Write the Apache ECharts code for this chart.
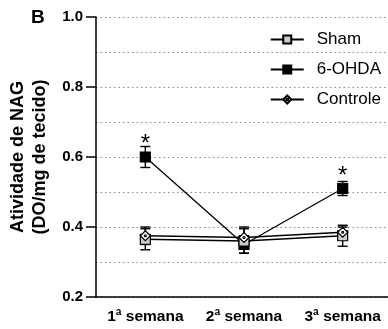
<!DOCTYPE html>
<html>
<head>
<meta charset="utf-8">
<script src="https://cdn.jsdelivr.net/npm/echarts@6/dist/echarts.min.js"></script>
<style>
  html, body { margin: 0; padding: 0; background: #fff; }
  #chart { width: 388px; height: 329px; }
</style>
</head>
<body>
<div id="chart"></div>
<script>
// data
var categories = ['1ª semana', '2ª semana', '3ª semana'];
var shamMean = [0.365, 0.36, 0.375];
var shamErr = [0.03, 0.035, 0.03];
var ohdaMean = [0.60, 0.35, 0.51];
var ohdaErr = [0.03, 0.025, 0.02];
var controleMean = [0.375, 0.37, 0.385];
var controleErr = [0.025, 0.03, 0.015];
var ohdaStar = [true, false, true];
var yMin = 0.2, yMax = 1.0, yStep = 0.2;

var FONT = 'Liberation Sans';
var diamondDot = 'path://M0,-5L5,0L0,5L-5,0Z M1,0A1,1 0 1,1 -1,0A1,1 0 1,1 1,0Z';

// error bars as custom series
var errorSeries = function (name, mean, err) {
  var data = mean.map(function (m, i) { return [i, m - err[i], m + err[i]]; });
  return {
    type: 'custom',
    name: name + '-err',
    data: data,
    z: 1,
    silent: true,
    renderItem: function (params, api) {
      var x = api.value(0);
      var lo = api.coord([x, api.value(1)]);
      var hi = api.coord([x, api.value(2)]);
      var w = 5;
      var st = { stroke: '#000', lineWidth: 1.4 };
      return {
        type: 'group',
        children: [
          { type: 'line', shape: { x1: lo[0], y1: lo[1], x2: hi[0], y2: hi[1] }, style: st },
          { type: 'line', shape: { x1: lo[0] - w, y1: lo[1], x2: lo[0] + w, y2: lo[1] }, style: st },
          { type: 'line', shape: { x1: hi[0] - w, y1: hi[1], x2: hi[0] + w, y2: hi[1] }, style: st }
        ]
      };
    }
  };
};

var lineSeries = function (name, mean, symbol, fill, z) {
  return {
    type: 'line',
    name: name,
    data: mean,
    symbol: symbol,
    symbolSize: 10,
    z: z,
    lineStyle: { color: '#000', width: 1.3 },
    itemStyle: { color: fill, borderColor: '#000', borderWidth: 1.2 },
    emphasis: { disabled: true }
  };
};

var ohda = lineSeries('6-OHDA', ohdaMean.map(function (v, i) {
  return ohdaStar[i] ? { value: v, label: { show: true } } : v;
}), 'rect', '#000', 3);
ohda.label = {
  show: false, position: 'top', distance: -5, formatter: '*',
  fontFamily: FONT, fontSize: 24, color: '#000'
};

var option = {
  animation: false,
  backgroundColor: '#fff',
  textStyle: { fontFamily: FONT },
  graphic: [{
    type: 'text', left: 31, top: 8,
    style: { text: 'B', fontFamily: FONT, fontSize: 19, fontWeight: 'bold', fill: '#000' }
  }],
  legend: {
    orient: 'vertical',
    right: 2, top: 26,
    itemWidth: 33, itemHeight: 10, itemGap: 13,
    data: ['Sham', '6-OHDA', 'Controle'],
    textStyle: { fontFamily: FONT, fontSize: 17, color: '#000', padding: [0, 0, 0, 8] }
  },
  grid: { left: 96, right: -4, top: 17, bottom: 32, outerBoundsMode: 'none', containLabel: false },
  xAxis: {
    type: 'category',
    data: categories,
    axisLine: { lineStyle: { color: '#000', width: 1.5 } },
    axisTick: { alignWithLabel: true, length: 8, lineStyle: { color: '#000', width: 1.5 } },
    axisLabel: { interval: 0, fontFamily: FONT, fontSize: 15.5, fontWeight: 'bold', color: '#000', margin: 12 }
  },
  yAxis: {
    type: 'value',
    min: yMin, max: yMax, interval: yStep,
    name: 'Atividade de NAG\n(DO/mg de tecido)',
    nameLocation: 'middle',
    nameRotate: 90,
    nameGap: 42,
    nameTextStyle: { fontFamily: FONT, fontSize: 18, fontWeight: 'bold', color: '#000', lineHeight: 22 },
    axisLine: { show: true, lineStyle: { color: '#000', width: 1.5 } },
    axisTick: { show: true, length: 10, lineStyle: { color: '#000', width: 1.5 } },
    axisLabel: {
      fontFamily: FONT, fontSize: 15, fontWeight: 'bold', color: '#000', margin: 13,
      formatter: function (v) { return v.toFixed(1); }
    },
    splitLine: { show: true, lineStyle: { color: '#888', type: [1.5, 3], width: 1 } },
    minorTick: { show: false, splitNumber: 2 },
    minorSplitLine: { show: true, lineStyle: { color: '#888', type: [1.5, 3], width: 1 } }
  },
  series: [
    errorSeries('6-OHDA', ohdaMean, ohdaErr),
    errorSeries('Sham', shamMean, shamErr),
    errorSeries('Controle', controleMean, controleErr),
    ohda,
    lineSeries('Sham', shamMean, 'rect', '#cccccc', 4),
    lineSeries('Controle', controleMean, diamondDot, '#fff', 5)
  ]
};

var chart = echarts.init(document.getElementById('chart'), null, { renderer: 'canvas' });
chart.setOption(option);
</script>
</body>
</html>
